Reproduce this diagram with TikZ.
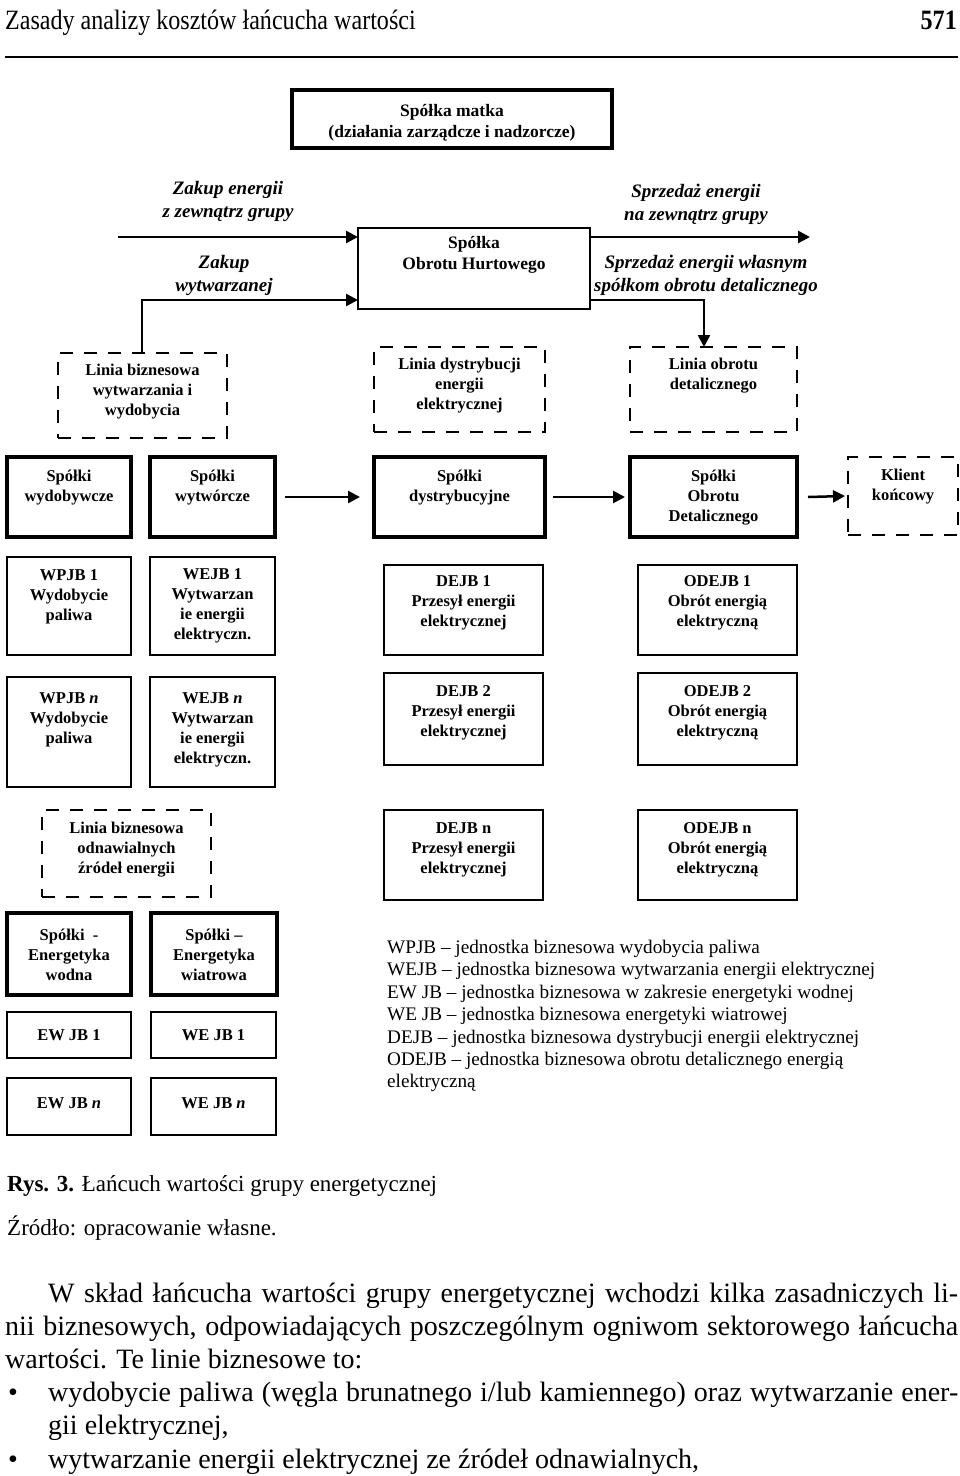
\documentclass[tikz,border=0pt]{standalone}
\usepackage{fontspec}
\setmainfont{Liberation Serif}
\newfontfamily\hdrfont[FakeStretch=0.86]{Liberation Serif}
\usetikzlibrary{arrows.meta}
\newcommand\bx[8]{%
  \node[#1,minimum width={#5-#3},minimum height={#6-#4}] (#2) at ({(#3+#5)/2},{(#4+#6)/2}) {};
  \node[bt] (#2t) at ({(#3+#5)/2},#7) {#8};}
\newcommand\bodyf{\fontsize{28}{33}\selectfont}
\begin{document}
\begin{tikzpicture}[x=1pt,y=-1pt,
  bxbase/.style={draw=black,rectangle,inner sep=0pt,outer sep=0pt},
  thinbox/.style={bxbase,line width=2pt},
  midbox/.style={bxbase,line width=2.5pt},
  heavybox/.style={bxbase,line width=3.5pt},
  matkabox/.style={bxbase,line width=4.5pt},
  dashbox/.style={bxbase,line width=2.5pt,dash pattern=on 13pt off 11pt},
  bt/.style={align=center,inner sep=0pt,font=\fontsize{16.5}{20}\selectfont\bfseries},
  bigbt/.style={align=center,inner sep=0pt,font=\fontsize{17.5}{21}\selectfont\bfseries},
  itl/.style={align=center,inner sep=0pt,font=\fontsize{19}{23}\selectfont\bfseries\itshape},
  arr/.style={line width=2.5pt,-{Triangle[length=12pt,width=12pt]}},
  plain/.style={inner sep=0pt,anchor=base west}]
\useasboundingbox (0,0) rectangle (960,1476);
% header
\node[plain,font=\hdrfont\fontsize{28}{32}\selectfont] (hdr) at (5,29) {Zasady analizy kosztów łańcucha wartości};
\node[inner sep=0pt,anchor=base east,font=\hdrfont\fontsize{28}{32}\selectfont\bfseries] (pg) at (957,29) {571};
\draw[line width=2pt] (5,57) -- (958,57);
% top boxes
\node[matkabox,minimum width=320,minimum height=58] (matka) at (452,119) {};
\node[bigbt] (matkat) at (452,123) {Spółka matka\\(działania zarządcze i nadzorcze)};
\node[thinbox,minimum width=232,minimum height=81] (hurt) at (474,268.5) {};
\node[bigbt] (hurtt) at (474,255) {Spółka\\Obrotu Hurtowego};
% italic labels
\node[itl] (l1) at (228,201) {Zakup energii\\z zewnątrz grupy};
\node[itl] (l2) at (224,275) {Zakup\\wytwarzanej};
\node[itl] (l3) at (696,204) {Sprzedaż energii\\na zewnątrz grupy};
\node[itl] (l4) at (706,275) {Sprzedaż energii własnym\\spółkom obrotu detalicznego};
% business lines
\bx{dashbox}{lb1}{58}{353}{227}{438}{392}{Linia biznesowa\\wytwarzania i\\wydobycia}
\bx{dashbox}{ld}{374}{347}{545}{432}{386}{Linia dystrybucji\\energii\\elektrycznej}
\bx{dashbox}{lo}{630}{347}{797}{432}{376}{Linia obrotu\\detalicznego}
% arrows around wholesale
\coordinate (in1) at (118,237);
\coordinate (j2) at (142,300);
\coordinate (out1) at (810,237);
\coordinate (j4) at (704,300);
\draw[arr] (in1) -- (in1 -| hurt.west);
\draw[arr] (lb1.north -| j2) -- (j2) -- (j2 -| hurt.west);
\draw[arr] (out1 -| hurt.east) -- (out1);
\draw[arr] (j4 -| hurt.east) -- (j4) -- (j4 |- lo.north);
% companies row
\bx{heavybox}{wyd}{7}{457}{131}{537}{488}{Spółki\\wydobywcze}
\bx{heavybox}{wyt}{150}{457}{275}{537}{488}{Spółki\\wytwórcze}
\bx{heavybox}{dys}{374}{457}{545}{537}{488}{Spółki\\dystrybucyjne}
\bx{heavybox}{odet}{630}{457}{797}{537}{498}{Spółki\\Obrotu\\Detalicznego}
\bx{dashbox}{kl}{848}{457}{958}{535}{487}{Klient\\końcowy}
\draw[arr] ([xshift=10pt]wyt.east) -- ([xshift=-14pt]dys.west);
\draw[arr] ([xshift=8pt]dys.east) -- ([xshift=-5pt]odet.west);
\draw[arr] ([xshift=11pt]odet.east) -- ([xshift=-3pt]kl.west);
% units
\bx{midbox}{wpjb1}{7}{557}{131}{655}{597}{WPJB 1\\Wydobycie\\paliwa}
\bx{midbox}{wejb1}{150}{557}{275}{655}{606}{WEJB 1\\Wytwarzan\\ie energii\\elektryczn.}
\bx{midbox}{dejb1}{384}{565}{543}{655}{603}{DEJB 1\\Przesył energii\\elektrycznej}
\bx{midbox}{odejb1}{638}{565}{797}{655}{603}{ODEJB 1\\Obrót energią\\elektryczną}
\bx{midbox}{wpjbn}{7}{677}{131}{787}{720}{WPJB \textit{n}\\Wydobycie\\paliwa}
\bx{midbox}{wejbn}{150}{677}{275}{787}{730}{WEJB \textit{n}\\Wytwarzan\\ie energii\\elektryczn.}
\bx{midbox}{dejb2}{384}{673}{543}{765}{713}{DEJB 2\\Przesył energii\\elektrycznej}
\bx{midbox}{odejb2}{638}{673}{797}{765}{713}{ODEJB 2\\Obrót energią\\elektryczną}
\bx{dashbox}{lb2}{42}{810}{211}{897}{850}{Linia biznesowa\\odnawialnych\\źródeł energii}
\bx{midbox}{dejbn}{384}{810}{543}{900}{850}{DEJB n\\Przesył energii\\elektrycznej}
\bx{midbox}{odejbn}{638}{810}{797}{900}{850}{ODEJB n\\Obrót energią\\elektryczną}
\bx{heavybox}{wodna}{7}{913}{131}{995}{955}{Spółki \ -\\Energetyka\\wodna}
\bx{heavybox}{wiatr}{151}{913}{277}{995}{955}{Spółki --\\Energetyka\\wiatrowa}
\bx{midbox}{ew1}{7}{1012}{131}{1058}{1035}{EW JB 1}
\bx{midbox}{we1}{151}{1012}{276}{1058}{1035}{WE JB 1}
\bx{midbox}{ewn}{7}{1078}{131}{1135}{1103}{EW JB \textit{n}}
\bx{midbox}{wen}{151}{1078}{276}{1135}{1103}{WE JB \textit{n}}
% legend
\node[inner sep=0pt,anchor=north west,align=left,font=\fontsize{19.2}{22.4}\selectfont] (leg) at (387,940)
 {WPJB -- jednostka biznesowa wydobycia paliwa\\
  WEJB -- jednostka biznesowa wytwarzania energii elektrycznej\\
  EW JB -- jednostka biznesowa w zakresie energetyki wodnej\\
  WE JB -- jednostka biznesowa energetyki wiatrowej\\
  DEJB -- jednostka biznesowa dystrybucji energii elektrycznej\\
  ODEJB -- jednostka biznesowa obrotu detalicznego energią\\
  elektryczną};
% caption
\node[plain,font=\fontsize{23}{26}\selectfont] (cap) at (7,1191) {\textbf{Rys. 3.} Łańcuch wartości grupy energetycznej};
\node[plain,font=\fontsize{23}{26}\selectfont] (src) at (7,1235) {Źródło: opracowanie własne.};
% body
\node[plain,font=\bodyf] (b1) at (48,1302) {\makebox[910pt][s]{W skład łańcucha wartości grupy energetycznej wchodzi kilka zasadniczych li-}};
\node[plain,font=\bodyf] (b2) at (5,1335) {\makebox[953pt][s]{nii biznesowych, odpowiadających poszczególnym ogniwom sektorowego łańcucha}};
\node[plain,font=\bodyf] (b3) at (5,1368) {wartości. Te linie biznesowe to:};
\node[plain,font=\bodyf] (bu1) at (8,1401) {•};
\node[plain,font=\bodyf] (b4) at (48,1401) {\makebox[910pt][s]{wydobycie paliwa (węgla brunatnego i/lub kamiennego) oraz wytwarzanie ener-}};
\node[plain,font=\bodyf] (b5) at (48,1434) {gii elektrycznej,};
\node[plain,font=\bodyf] (bu2) at (8,1468) {•};
\node[plain,font=\bodyf] (b6) at (48,1468) {wytwarzanie energii elektrycznej ze źródeł odnawialnych,};
\end{tikzpicture}
\end{document}
